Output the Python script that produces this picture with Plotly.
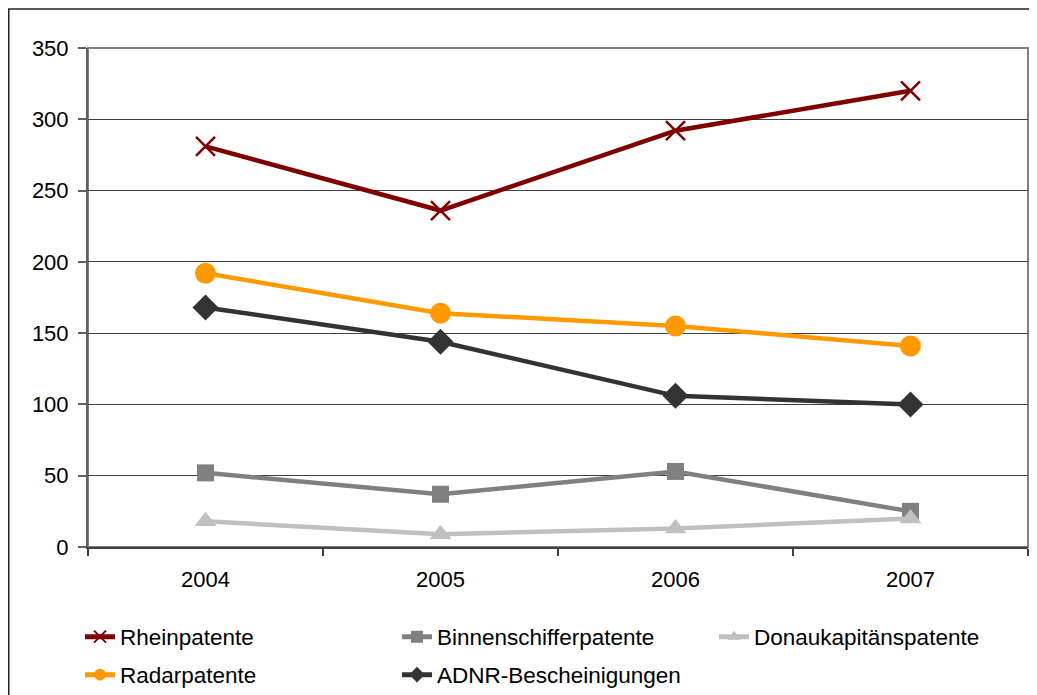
import plotly.graph_objects as go

years = ["2004", "2005", "2006", "2007"]
rheinpatente = [281, 236, 292, 320]
binnenschifferpatente = [52, 37, 53, 25]
donaukapitaenspatente = [18, 9, 13, 20]
radarpatente = [192, 164, 155, 141]
adnr = [168, 144, 106, 100]

y_ticks = [0, 50, 100, 150, 200, 250, 300, 350]

# The page body has an 8px margin, so the figure is 8px smaller than the window
OFF = 8
W, H = 1037 - OFF, 695 - OFF
# plot area in screen pixels
SL, SR, ST, SB = 88, 1028, 48, 547

def px_x(p):
    return (p - SL) / (SR - SL)

def px_y(p):
    return (SB - p) / (SB - ST)

FONT = "Liberation Sans, Arial, sans-serif"

fig = go.Figure()

series = [
    ("Rheinpatente", rheinpatente, "#800000", "x-thin", 19, "legend"),
    ("Binnenschifferpatente", binnenschifferpatente, "#808080", "square", 17, "legend"),
    ("Donaukapitänspatente", donaukapitaenspatente, "#C0C0C0", "triangle-up", 19, "legend"),
    ("Radarpatente", radarpatente, "#FF9900", "circle", 21, "legend2"),
    ("ADNR-Bescheinigungen", adnr, "#333333", "diamond", 20, "legend2"),
]

for name, vals, col, sym, size, lg in series:
    marker = dict(symbol=sym, size=size, color=col)
    if sym == "x-thin":
        marker["line"] = dict(color=col, width=2.5)
    fig.add_trace(go.Scatter(
        x=years, y=vals, name=name, mode="lines+markers",
        line=dict(color=col, width=4.5),
        marker=marker, legend=lg, cliponaxis=False,
    ))

legend_common = dict(
    orientation="h", xanchor="left", yanchor="middle",
    font=dict(family=FONT, size=22.5, color="#000000"),
    entrywidth=272, entrywidthmode="pixels",
    itemsizing="constant", bgcolor="rgba(0,0,0,0)",
    tracegroupgap=0, itemclick=False,
)

fig.update_layout(
    width=W, height=H,
    margin=dict(l=SL - OFF, r=W - (SR - OFF), t=ST - OFF, b=H - (SB - OFF),
                autoexpand=False),
    paper_bgcolor="white", plot_bgcolor="white",
    font=dict(family=FONT, size=22, color="#000000"),
    showlegend=True,
    legend=dict(x=px_x(80), y=px_y(637), **legend_common),
    legend2=dict(x=px_x(80), y=px_y(675), **legend_common),
    xaxis=dict(
        type="category", range=[-0.5, 3.5], tickson="boundaries",
        ticks="outside", ticklen=7, tickcolor="#404040", tickwidth=1.5,
        showline=True, linecolor="#404040", linewidth=2,
        showgrid=False, zeroline=False,
        tickfont=dict(family=FONT, size=22, color="#000000"),
        ticklabelstandoff=12,
    ),
    yaxis=dict(
        range=[0, 350], tickvals=y_ticks, ticks="outside", ticklen=8,
        tickcolor="#606060", tickwidth=1.5,
        showline=True, linecolor="#606060", linewidth=2,
        showgrid=True, gridcolor="#404040", gridwidth=1,
        zeroline=False,
        tickfont=dict(family=FONT, size=22, color="#000000"),
        ticklabelstandoff=5,
    ),
    shapes=[
        dict(type="rect", xref="paper", yref="paper", x0=0, x1=1, y0=0, y1=1,
             line=dict(color="#808080", width=2), layer="below"),
        dict(type="rect", xref="paper", yref="paper",
             x0=px_x(8.75), x1=px_x(1050), y0=px_y(710), y1=px_y(9),
             line=dict(color="#222222", width=1.5), layer="below"),
    ],
)

fig.write_html("out.html")
